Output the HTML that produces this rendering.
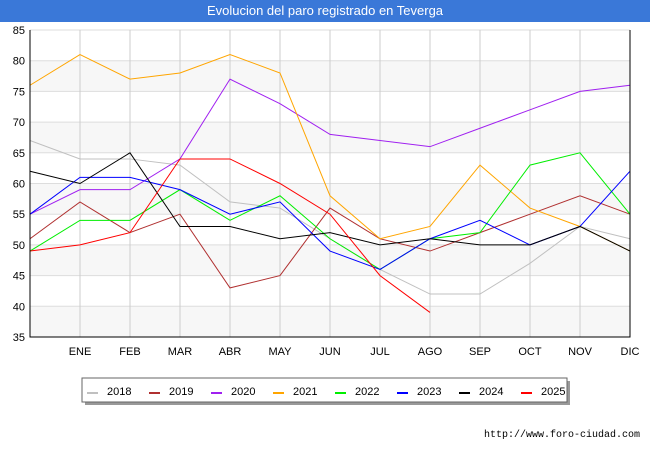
<!DOCTYPE html>
<html><head><meta charset="utf-8"><style>
body{margin:0;width:650px;height:450px;background:#fff;font-family:"Liberation Sans",sans-serif;overflow:hidden;position:relative}
#title{position:absolute;left:0;top:0;width:650px;height:22px;background:#3a78d8;color:#fff;font-size:13px;text-align:center;line-height:22px}
</style></head><body>
<div id="title">Evolucion del paro registrado en Teverga</div>
<svg id="chart" width="650" height="450" style="position:absolute;left:0;top:0"></svg>
<script>
const months=["","ENE","FEB","MAR","ABR","MAY","JUN","JUL","AGO","SEP","OCT","NOV","DIC"];
const yTicks=[35,40,45,50,55,60,65,70,75,80,85];
const years=["2018","2019","2020","2021","2022","2023","2024","2025"];
const colors=["#c0c0c0","#b03030","#a020f0","#ffa500","#00ee00","#0000ff","#000000","#ff0000"];
const s2018=[67,64,64,63,57,56,51,46,42,42,47,53,51];
const s2019=[51,57,52,55,43,45,56,51,49,52,55,58,55];
const s2020=[55,59,59,64,77,73,68,67,66,69,72,75,76];
const s2021=[76,81,77,78,81,78,58,51,53,63,56,53,49];
const s2022=[49,54,54,59,54,58,51,46,51,52,63,65,55];
const s2023=[55,61,61,59,55,57,49,46,51,54,50,53,62];
const s2024=[62,60,65,53,53,51,52,50,51,50,50,53,49];
const s2025=[49,50,52,64,64,60,55,45,39];
const series=[s2018,s2019,s2020,s2021,s2022,s2023,s2024,s2025];
const svg=document.getElementById('chart');const NS="http://www.w3.org/2000/svg";
const L=30,R=630,T=30,B=337;
const x=i=>L+i*(R-L)/12;
const y=v=>B-(v-35)*(B-T)/50;
function mk(t,a,p){const e=document.createElementNS(NS,t);for(const k in a)e.setAttribute(k,a[k]);(p||svg).appendChild(e);return e;}
for(let v=35;v<85;v+=10){
const r=mk('rect',{x:L,y:y(v+5),width:R-L,height:y(v)-y(v+5),fill:'#f7f7f7'});


}
yTicks.forEach(v=>{
const g=mk('line',{x1:L,x2:R,y1:y(v),y2:y(v),stroke:'#dddddd','stroke-width':1});


const t=mk('text',{x:L-5,y:y(v)+4,'text-anchor':'end','font-size':11,fill:'#000'});t.textContent=v;


});
months.forEach((m,i)=>{
if(i>0){const g=mk('line',{x1:x(i),x2:x(i),y1:T,y2:B,stroke:'#cccccc','stroke-width':1});

}
const t=mk('text',{x:x(i),y:B+18,'text-anchor':'middle','font-size':11,fill:'#000'});t.textContent=m;


});
series.forEach((s,k)=>{
const p=mk('polyline',{points:s.map((v,i)=>x(i)+','+y(v)).join(' '),fill:'none',stroke:colors[k],'stroke-width':1});


});
const ax=mk('path',{d:`M${L} ${T} V${B} H${R} V${T}`,fill:'none',stroke:'#000','stroke-width':1});


mk('rect',{x:85,y:381,width:485,height:24,fill:'#999'});
const lg=mk('rect',{x:82,y:378,width:485,height:24,fill:'#fff',stroke:'#666'});


years.forEach((yr,k)=>{
const bx=87+k*62;
const sw=mk('rect',{x:bx,y:392,width:11,height:2,fill:colors[k]});


const t=mk('text',{x:bx+20,y:395,'font-size':11,fill:'#000'});t.textContent=yr;


});
const u=mk('text',{x:640,y:437,'text-anchor':'end','font-size':10,fill:'#000','font-family':'Liberation Mono, monospace'});u.textContent='http://www.foro-ciudad.com';


</script>
</body></html>
